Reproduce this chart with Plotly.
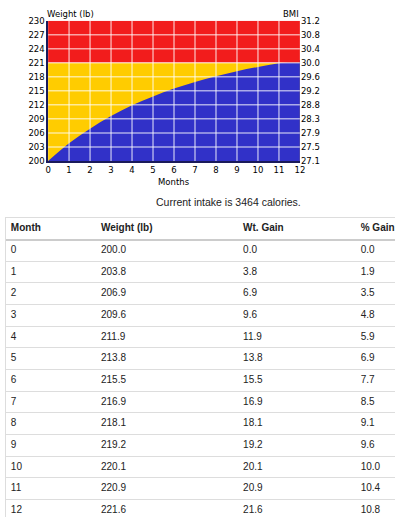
import plotly.graph_objects as go

# ---------------- data ----------------
months = [0, 1, 2, 3, 4, 5, 6, 7, 8, 9, 10, 11, 12]
weights = [200.0, 203.8, 206.9, 209.6, 211.9, 213.8, 215.5, 216.9, 218.1, 219.2, 220.1, 220.9, 221.6]
gains = [0.0, 3.8, 6.9, 9.6, 11.9, 13.8, 15.5, 16.9, 18.1, 19.2, 20.1, 20.9, 21.6]
pct_gains = [0.0, 1.9, 3.5, 4.8, 5.9, 6.9, 7.7, 8.5, 9.1, 9.6, 10.0, 10.4, 10.8]

weight_ticks = [200, 203, 206, 209, 212, 215, 218, 221, 224, 227, 230]
bmi_labels = ["27.1", "27.5", "27.9", "28.3", "28.8", "29.2", "29.6", "30.0", "30.4", "30.8", "31.2"]
obese_weight = 221
weight_min = 200
weight_max = 230
intake_calories = 3464

table_headers = ["Month", "Weight (lb)", "Wt. Gain", "% Gain"]

# ---------------- styles ----------------
RED = "#f21c1c"
YELLOW = "#ffcc00"
BLUE = "#3131c8"
AXIS_FONT = dict(family="DejaVu Sans", size=8.5, color="#000000")
TABLE_FONT = "Liberation Sans, Arial, sans-serif"

fig = go.Figure()

x_span = [months[0], months[-1]]

# yellow band (up to obesity threshold)
fig.add_trace(go.Scatter(x=x_span, y=[obese_weight, obese_weight], mode="lines",
                         line=dict(width=0), fill="tozeroy", fillcolor=YELLOW,
                         hoverinfo="skip", showlegend=False, xaxis="x", yaxis="y"))
# projected weight (blue)
fig.add_trace(go.Scatter(x=months, y=weights, mode="lines",
                         line=dict(width=0, shape="spline"), fill="tozeroy", fillcolor=BLUE,
                         showlegend=False, xaxis="x", yaxis="y"))
# red band above threshold
fig.add_trace(go.Scatter(x=x_span, y=[obese_weight, obese_weight], mode="lines",
                         line=dict(width=0), hoverinfo="skip", showlegend=False,
                         xaxis="x", yaxis="y"))
fig.add_trace(go.Scatter(x=x_span, y=[weight_max, weight_max], mode="lines",
                         line=dict(width=0), fill="tonexty", fillcolor=RED,
                         hoverinfo="skip", showlegend=False, xaxis="x", yaxis="y"))
# dummy trace for the BMI axis
fig.add_trace(go.Scatter(x=x_span, y=[weight_min, weight_max], mode="none",
                         hoverinfo="skip", showlegend=False, xaxis="x", yaxis="y3"))

# ---------------- table as text on a second subplot ----------------
col_x = [8, 100, 245, 365]
row_y = [m + 0.5 for m in months]
columns = [
    [str(m) for m in months],
    [f"{w:.1f}" for w in weights],
    [f"{g:.1f}" for g in gains],
    [f"{p:.1f}" for p in pct_gains],
]
for cx, col in zip(col_x, columns):
    fig.add_trace(go.Scatter(x=[cx] * len(col), y=row_y, text=col, mode="text",
                             textposition="middle right", cliponaxis=False,
                             textfont=dict(family=TABLE_FONT, size=10, color="#222222"),
                             hoverinfo="skip", showlegend=False, xaxis="x2", yaxis="y2"))
fig.add_trace(go.Scatter(x=col_x, y=[-0.5] * len(col_x),
                         text=[f"<b>{h}</b>" for h in table_headers], mode="text",
                         textposition="middle right", cliponaxis=False,
                         textfont=dict(family=TABLE_FONT, size=10, color="#222222"),
                         hoverinfo="skip", showlegend=False, xaxis="x2", yaxis="y2"))

# grid lines drawn above the fills
shapes = []
for m in months[1:-1]:
    shapes.append(dict(type="line", xref="x", yref="y", x0=m, x1=m, y0=weight_min, y1=weight_max,
                       line=dict(color="rgba(255,255,255,0.6)", width=1.5), layer="above"))
for w in weight_ticks[1:-1]:
    shapes.append(dict(type="line", xref="x", yref="y", x0=months[0], x1=months[-1], y0=w, y1=w,
                       line=dict(color="rgba(255,255,255,0.6)", width=1.5), layer="above"))

W, H = 400, 522
plot_left, plot_right, plot_top, plot_bottom = 46, 303, 16, 159
table_top = 217

fig.update_layout(
    width=W, height=H,
    margin=dict(l=0, r=0, t=0, b=0),
    paper_bgcolor="white", plot_bgcolor="white",
    showlegend=False,
    shapes=shapes,
    xaxis=dict(domain=[plot_left / W, plot_right / W], range=x_span, tickvals=months,
               showgrid=False, zeroline=False, ticks="", tickfont=AXIS_FONT,
               showline=True, linecolor="#1a1a5a", linewidth=1.5, layer="above traces",
               anchor="y", fixedrange=True),
    yaxis=dict(domain=[1 - plot_bottom / H, 1 - plot_top / H], range=[weight_min, weight_max],
               tickvals=weight_ticks, showgrid=False, zeroline=False, ticks="",
               tickfont=AXIS_FONT, showline=True, linecolor="#1a1a5a", linewidth=1.5,
               layer="above traces", anchor="x", fixedrange=True),
    yaxis3=dict(overlaying="y", side="right", range=[weight_min, weight_max],
                tickvals=weight_ticks, ticktext=bmi_labels, showgrid=False, zeroline=False,
                ticks="", tickfont=AXIS_FONT, anchor="x", fixedrange=True),
    xaxis2=dict(domain=[3 / W, 1], range=[3, W], showgrid=False, zeroline=False,
                showticklabels=False, ticks="", side="top", showline=True,
                linecolor="#dddddd", linewidth=1, anchor="y2", fixedrange=True),
    yaxis2=dict(domain=[0, 1 - table_top / H], range=[12.8, -1], tickvals=months[1:],
                showgrid=True, gridcolor="#dddddd", gridwidth=1, showticklabels=False,
                ticks="", zeroline=True, zerolinecolor="#cccccc", zerolinewidth=2,
                showline=True, linecolor="#dddddd", linewidth=1, anchor="x2", fixedrange=True),
    annotations=[
        dict(text="Weight (lb)", xref="paper", yref="paper", x=43 / W, y=1 - 9 / H,
             xanchor="left", yanchor="middle", showarrow=False, font=AXIS_FONT),
        dict(text="BMI", xref="paper", yref="paper", x=304 / W, y=1 - 9 / H,
             xanchor="right", yanchor="middle", showarrow=False, font=AXIS_FONT),
        dict(text="Months", xref="paper", yref="paper", x=(plot_left + plot_right) / 2 / W,
             y=1 - 180 / H, xanchor="center", yanchor="middle", showarrow=False, font=AXIS_FONT),
        dict(text=f"Current intake is {intake_calories} calories.", xref="paper", yref="paper",
             x=230 / W, y=1 - 201 / H, xanchor="center", yanchor="middle", showarrow=False,
             font=dict(family=TABLE_FONT, size=10.5, color="#222222")),
    ],
)

fig.write_html("out.html", config={"displayModeBar": False},
               post_script="document.body.style.margin='0px';document.body.style.overflow='hidden';")
